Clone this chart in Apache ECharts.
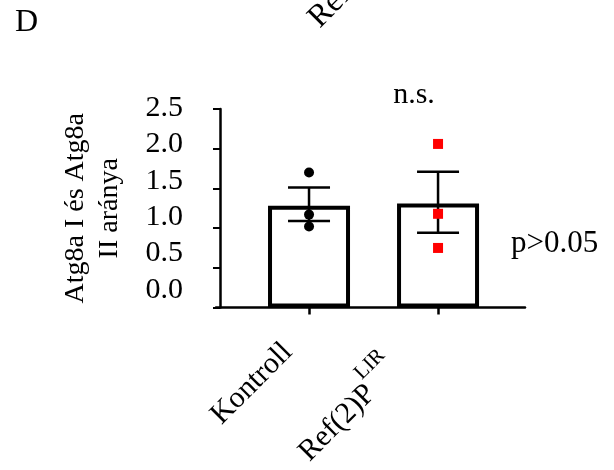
<!DOCTYPE html>
<html>
<head>
<meta charset="utf-8">
<script src="https://cdn.jsdelivr.net/npm/echarts@6.0.0/dist/echarts.min.js"></script>
<style>
  html, body { margin: 0; padding: 0; background: #fff; }
  #chart { width: 614px; height: 470px; }
</style>
</head>
<body>
<div id="chart"></div>
<script>
// groups (x position 1 and 2 on the axis)
var categories = ['Kontroll', 'Ref(2)P']
var categorySup = ['', 'LIR']
// bar heights (mean) and error bar ends
var means = [1.28, 1.31]
var errLow = [1.09, 0.94]
var errHigh = [1.51, 1.71]
// single measurements
var kontrollPoints = [1.70, 1.17, 1.02]
var refPoints = [2.06, 1.18, 0.75]
// y axis ticks
var yMin = 0
var yMax = 2.5
var yStep = 0.5

var FONT = 'Liberation Serif'
var chart = echarts.init(document.getElementById('chart'), null, { renderer: 'canvas' })

var xPos = categories.map(function (c, i) { return i + 1 })

chart.setOption({
  animation: false,
  backgroundColor: '#fff',
  textStyle: { fontFamily: FONT, color: '#000' },
  grid: [
    // x axis line starts a little left of the y axis
    { left: 216, right: 89, top: 109, bottom: 162.5 },
    // the tick labels sit on a slightly tighter scale than the ticks
    { left: 220, right: 89, top: 108, bottom: 180 }
  ],
  xAxis: [
    {
      gridIndex: 0,
      type: 'value',
      min: 0.279,
      max: 2.674,
      splitLine: { show: false },
      axisLine: { show: true, lineStyle: { color: '#000', width: 2.5 } },
      axisTick: { show: true, customValues: xPos, length: 7, lineStyle: { color: '#000', width: 2.5 } },
      axisLabel: {
        customValues: xPos,
        rotate: 45,
        margin: 5,
        fontFamily: FONT,
        fontSize: 30,
        color: '#000',
        formatter: function (v) {
          var i = Math.round(v) - 1
          if (categorySup[i]) {
            return '{r|' + categories[i] + '}{s|' + categorySup[i] + '}'
          }
          return '{k|' + categories[i] + '}'
        },
        rich: {
          k: { fontFamily: FONT, fontSize: 30, color: '#000', padding: [20, 40, 0, 0] },
          r: { fontFamily: FONT, fontSize: 30, color: '#000', padding: [14, 0, 0, 0] },
          s: { fontFamily: FONT, fontSize: 21, color: '#000', verticalAlign: 'top', padding: [0, 68, 0, 0] }
        }
      }
    },
    { gridIndex: 1, type: 'value', show: false, min: 0, max: 1 }
  ],
  yAxis: [
    {
      gridIndex: 0,
      type: 'value',
      min: yMin,
      max: yMax,
      interval: yStep,
      offset: -4,
      name: 'Atg8a I és Atg8a\nII aránya',
      nameLocation: 'middle',
      nameRotate: 90,
      nameGap: 93,
      nameTextStyle: { fontFamily: FONT, fontSize: 28, lineHeight: 34, color: '#000' },
      splitLine: { show: false },
      axisLine: { show: true, lineStyle: { color: '#000', width: 2.5 } },
      axisTick: { show: true, length: 7, lineStyle: { color: '#000', width: 2 } },
      axisLabel: { show: false }
    },
    {
      gridIndex: 1,
      type: 'value',
      min: yMin,
      max: yMax,
      interval: yStep,
      splitLine: { show: false },
      axisLine: { show: false },
      axisTick: { show: false },
      axisLabel: {
        margin: 37,
        fontFamily: FONT,
        fontSize: 30,
        color: '#000',
        formatter: function (v) { return v.toFixed(1) }
      }
    }
  ],
  series: [
    {
      type: 'bar',
      xAxisIndex: 0,
      yAxisIndex: 0,
      barWidth: 82,
      data: means.map(function (m, i) { return [xPos[i], m] }),
      itemStyle: { color: '#fff', borderColor: '#000', borderWidth: 4 },
      z: 2
    },
    {
      type: 'custom',
      xAxisIndex: 0,
      yAxisIndex: 0,
      data: means.map(function (m, i) { return [xPos[i], errLow[i], errHigh[i]] }),
      renderItem: function (params, api) {
        var x = api.value(0)
        var lo = api.coord([x, api.value(1)])
        var hi = api.coord([x, api.value(2)])
        var half = 21
        var st = { stroke: '#000', lineWidth: 2.5 }
        return {
          type: 'group',
          children: [
            { type: 'line', shape: { x1: hi[0], y1: hi[1], x2: lo[0], y2: lo[1] }, style: st },
            { type: 'line', shape: { x1: hi[0] - half, y1: hi[1], x2: hi[0] + half, y2: hi[1] }, style: st },
            { type: 'line', shape: { x1: lo[0] - half, y1: lo[1], x2: lo[0] + half, y2: lo[1] }, style: st }
          ]
        }
      },
      z: 3
    },
    {
      type: 'scatter',
      xAxisIndex: 0,
      yAxisIndex: 0,
      symbol: 'circle',
      symbolSize: 10,
      data: kontrollPoints.map(function (v) { return [xPos[0], v] }),
      itemStyle: { color: '#000', opacity: 1 },
      z: 4
    },
    {
      type: 'scatter',
      xAxisIndex: 0,
      yAxisIndex: 0,
      symbol: 'rect',
      symbolSize: 10,
      data: refPoints.map(function (v) { return [xPos[1], v] }),
      itemStyle: { color: '#ff0000', opacity: 1 },
      z: 4
    }
  ],
  graphic: [
    { type: 'text', left: 15, top: 7, style: { text: 'D', font: '32px "Liberation Serif"', fill: '#000' } },
    // label of the panel above, cut by the top edge
    { type: 'text', x: 325, y: 34, rotation: Math.PI / 4, style: { text: 'Ref(2)P', font: '32px "Liberation Serif"', fill: '#000', align: 'left', verticalAlign: 'bottom' } },
    { type: 'text', x: 414, y: 95, style: { text: 'n.s.', font: '30px "Liberation Serif"', fill: '#000', align: 'center', verticalAlign: 'middle' } },
    { type: 'text', x: 511, y: 244, style: { text: 'p>0.05', font: '31px "Liberation Serif"', fill: '#000', align: 'left', verticalAlign: 'middle' } }
  ]
})
</script>
</body>
</html>
